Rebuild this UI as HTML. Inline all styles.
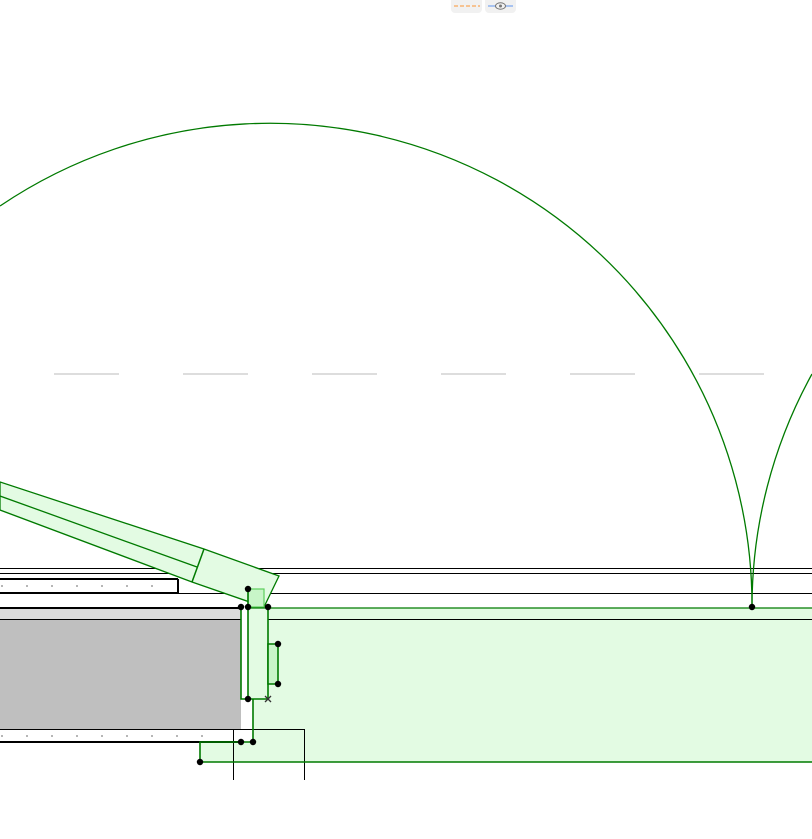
<!DOCTYPE html>
<html><head><meta charset="utf-8"><style>html,body{margin:0;padding:0;background:#fff}svg{display:block}</style></head>
<body>
<svg width="812" height="839" viewBox="0 0 812 839" xmlns="http://www.w3.org/2000/svg">
<rect x="451" y="-4" width="31" height="17" rx="4" fill="#f1f1f1"/>
<rect x="485" y="-4" width="31" height="17" rx="4" fill="#f1f1f1"/>
<line x1="454" y1="6" x2="480" y2="6" stroke="#f9a85a" stroke-width="1.2" stroke-dasharray="4,2"/>
<line x1="488" y1="6" x2="513" y2="6" stroke="#7ea8f0" stroke-width="1.2"/>
<ellipse cx="500.5" cy="6" rx="5" ry="3.2" fill="#f1f1f1" stroke="#777" stroke-width="1"/>
<circle cx="500.5" cy="6" r="1.5" fill="#777"/>
<g stroke="#bbb" stroke-width="1">
<line x1="54" y1="374" x2="119" y2="374"/><line x1="183" y1="374" x2="248" y2="374"/><line x1="312" y1="374" x2="377" y2="374"/><line x1="441" y1="374" x2="506" y2="374"/><line x1="570" y1="374" x2="635" y2="374"/><line x1="699" y1="374" x2="764" y2="374"/>
</g>
<rect x="0" y="608" width="241" height="11" fill="#dcdcdc"/>
<rect x="0" y="619" width="241" height="110" fill="#bfbfbf"/>
<polygon points="248,608 812,608 812,762 200,762 200,742 253,742 253,699 248,699" fill="#e3fbe3"/>
<g stroke="#000" fill="none">
<line x1="0" y1="568.5" x2="812" y2="568.5" stroke-width="1"/>
<line x1="0" y1="573.5" x2="812" y2="573.5" stroke-width="1"/>
<line x1="0" y1="579" x2="178" y2="579" stroke-width="2"/>
<line x1="178" y1="579" x2="178" y2="593" stroke-width="2"/>
<line x1="0" y1="593" x2="178" y2="593" stroke-width="2"/>
<line x1="178" y1="593.5" x2="812" y2="593.5" stroke-width="1"/>
<line x1="0" y1="608" x2="241" y2="608" stroke-width="2"/>
<line x1="0" y1="619.5" x2="241" y2="619.5" stroke-width="1"/>
<line x1="268" y1="619.5" x2="812" y2="619.5" stroke-width="1"/>
<line x1="0" y1="729.5" x2="241" y2="729.5" stroke-width="1"/>
<line x1="233" y1="729.5" x2="304" y2="729.5" stroke-width="1"/>
<line x1="233.5" y1="729" x2="233.5" y2="780" stroke-width="1"/>
<line x1="304.5" y1="729" x2="304.5" y2="780" stroke-width="1"/>
<line x1="0" y1="742" x2="241" y2="742" stroke-width="2"/>
</g>
<g fill="#000">
<circle cx="2" cy="586" r=".6"/><circle cx="27" cy="586" r=".6"/><circle cx="52" cy="586" r=".6"/><circle cx="77" cy="586" r=".6"/><circle cx="102" cy="586" r=".6"/><circle cx="127" cy="586" r=".6"/><circle cx="152" cy="586" r=".6"/>
<circle cx="2" cy="736" r=".6"/><circle cx="27" cy="736" r=".6"/><circle cx="52" cy="736" r=".6"/><circle cx="77" cy="736" r=".6"/><circle cx="102" cy="736" r=".6"/><circle cx="127" cy="736" r=".6"/><circle cx="152" cy="736" r=".6"/><circle cx="177" cy="736" r=".6"/><circle cx="202" cy="736" r=".6"/>
</g>
<path d="M0,206 A482,482 0 0 1 752,607" fill="none" stroke="#007a00" stroke-width="1.3"/>
<path d="M752,607 A482,482 0 0 1 812,374" fill="none" stroke="#007a00" stroke-width="1.3"/>
<polygon points="0,482 204,549 279,576 264,607 192,582 0,510" fill="#e3fbe3" stroke="#007a00" stroke-width="1.3"/>
<line x1="0" y1="496" x2="197" y2="567" stroke="#007a00" stroke-width="1.3"/>
<line x1="204" y1="549" x2="192" y2="582" stroke="#007a00" stroke-width="1.5"/>
<rect x="248" y="589" width="16" height="18" fill="#c8f5c8" stroke="#5ccf5c" stroke-width="1.2"/>
<line x1="248" y1="608" x2="812" y2="608" stroke="#007a00" stroke-width="1.3"/>
<g stroke="#007a00" stroke-width="1.6" fill="none">
<polyline points="241,607 241,699 268,699 268,607"/>
<line x1="248" y1="589" x2="248" y2="699"/>
<polygon points="268,644 278,644 278,684 268,684" fill="#c8f5c8"/>
<polyline points="253,699 253,742 200,742 200,762 812,762"/>
</g>
<g fill="#000">
<circle cx="241" cy="607" r="3.2"/><circle cx="248" cy="607" r="3.2"/><circle cx="268" cy="607" r="3.2"/><circle cx="248" cy="589" r="3.2"/>
<circle cx="278" cy="644" r="3.2"/><circle cx="278" cy="684" r="3.2"/><circle cx="248" cy="699" r="3.2"/>
<circle cx="241" cy="742" r="3.2"/><circle cx="253" cy="742" r="3.2"/><circle cx="200" cy="762" r="3.2"/><circle cx="752" cy="607" r="3.2"/>
</g>
<g stroke="#333" stroke-width="1.3"><line x1="265" y1="696" x2="271" y2="702"/><line x1="271" y1="696" x2="265" y2="702"/></g>
</svg>
</body></html>
